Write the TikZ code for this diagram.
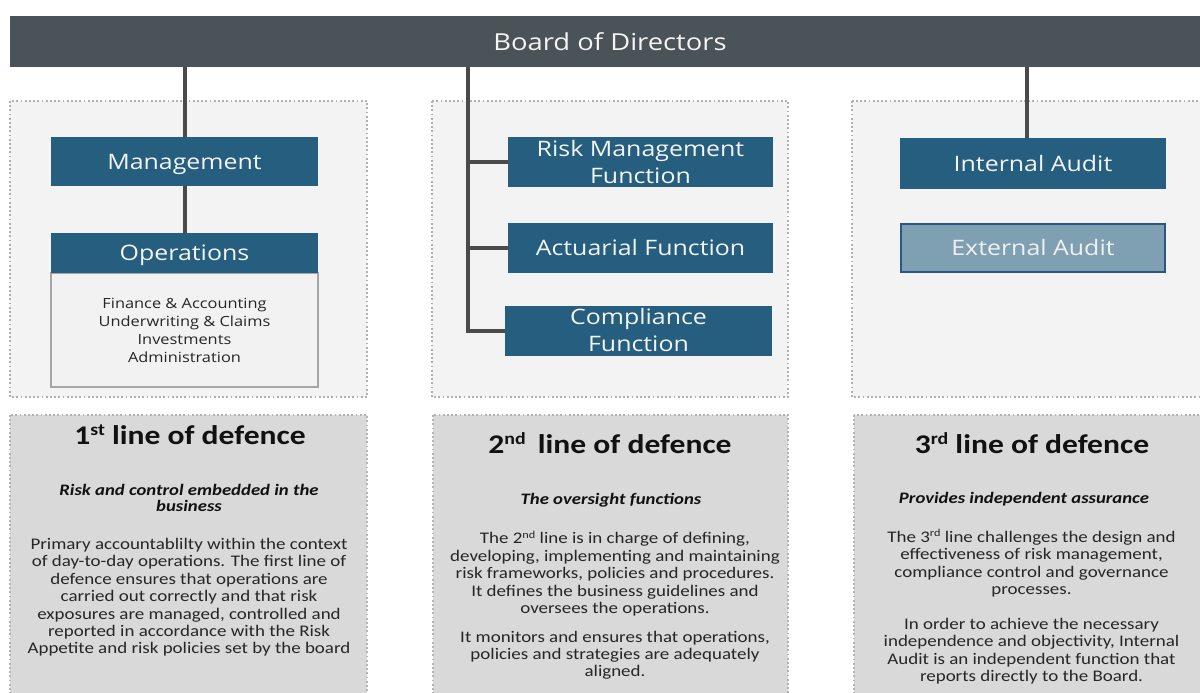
\documentclass[tikz,border=0pt]{standalone}
\usepackage{fontspec}
\setmainfont{Carlito}
\newfontfamily\boxfont[FakeStretch=1.17]{Open Sans}
\newfontfamily\bodyfont[FakeStretch=1.17]{Carlito}
\definecolor{boardgray}{HTML}{4A5357}
\definecolor{boxblue}{HTML}{255E7E}
\definecolor{extfill}{HTML}{7FA0B2}
\definecolor{extborder}{HTML}{2D5684}
\definecolor{panellight}{HTML}{F3F3F3}
\definecolor{panelgray}{HTML}{D9D9D9}
\definecolor{dotgray}{HTML}{B0B0B0}
\definecolor{dotgraytwo}{HTML}{B4B4B4}
\definecolor{linkgray}{HTML}{4A4A4A}
\definecolor{opsfill}{HTML}{F2F2F2}
\definecolor{opsborder}{HTML}{A6A6A6}
\definecolor{inktext}{HTML}{262626}
\definecolor{titleblack}{HTML}{111111}
\definecolor{textwhite}{HTML}{F4F4F4}
\definecolor{textwhitetwo}{HTML}{F0F0F0}
\newcommand{\titlesup}[1]{\raisebox{8.5pt}{\fontsize{17}{17}\selectfont #1}}
\newcommand{\bodysup}[1]{\raisebox{5.5pt}{\fontsize{10.5}{10.5}\selectfont #1}}
\tikzset{
  boardbox/.style={fill=boardgray, text=textwhite, font=\boxfont\fontsize{23.4}{28}\selectfont,
    inner sep=0pt, minimum width=1200pt, minimum height=51pt},
  bluebox/.style={fill=boxblue, text=textwhite, font=\boxfont\fontsize{21.3}{27}\selectfont,
    align=center, inner sep=0pt, minimum width=266pt, minimum height=50pt},
  capcentre/.style={text height=15.2pt, text depth=0pt},
  extbox/.style={bluebox, fill=extfill, draw=extborder, line width=2pt, text=textwhitetwo},
  opsbox/.style={fill=opsfill, draw=opsborder, line width=2pt, align=center,
    font=\boxfont\fontsize{14}{18}\selectfont, text=inktext, inner sep=0pt},
  toppanel/.style={fill=panellight, draw=dotgray, line width=1.8pt, dash pattern=on 1.8pt off 2.4pt},
  botpanel/.style={fill=panelgray, draw=dotgraytwo, line width=1.8pt, dash pattern=on 1.8pt off 2.4pt},
  link/.style={draw=linkgray, line width=4pt},
  titletext/.style={font=\bodyfont\bfseries\fontsize{27}{32}\selectfont, text=titleblack, inner sep=0pt, anchor=base},
  subtext/.style={font=\bodyfont\bfseries\itshape\fontsize{16}{16.5}\selectfont, align=center,
    inner sep=0pt, text=titleblack, anchor=base},
  paratext/.style={font=\bodyfont\fontsize{16.2}{17.4}\selectfont, align=center,
    inner sep=0pt, text=inktext, anchor=base},
}
\begin{document}
\begin{tikzpicture}[x=1pt,y=-1pt]
\useasboundingbox (0,0) rectangle (1200,693);
\clip (0,0) rectangle (1200,693);
% panels
\draw[toppanel] (10,101) rectangle (367,397);
\draw[toppanel] (432,101) rectangle (788,397);
\draw[toppanel] (852,101) rectangle (1212,397);
\draw[botpanel] (10,415) rectangle (367,700);
\draw[botpanel] (433,415) rectangle (788,700);
\draw[botpanel] (854,415) rectangle (1212,700);
% board
\node[boardbox] (board) at (610,41.5) {Board of Directors};
% first line column
\node[bluebox, capcentre, minimum width=267pt, minimum height=49pt] (mgmt) at (184.5,161.5) {Management};
\node[opsbox, minimum width=267pt, minimum height=114pt] (opsd) at (184.5,330)
  {Finance \& Accounting\\Underwriting \& Claims\\Investments\\Administration};
\node[bluebox, capcentre, minimum width=267pt, minimum height=40pt] (ops) at (184.5,253) {Operations};
% second line column
\node[bluebox, minimum width=265pt] (rmf) at (640.5,162) {Risk Management\\Function};
\node[bluebox, minimum width=265pt] (act) at (640.5,248) {Actuarial Function};
\node[bluebox, minimum width=267pt] (comp) at (638.5,330.5) {Compliance\\Function};
% third line column
\node[bluebox, minimum height=51pt] (ia) at (1033,163.5) {Internal Audit};
\node[extbox, minimum width=264pt, minimum height=48pt] (ea) at (1033,248) {External Audit};
% connectors
\draw[link] (board.south -| mgmt.north) -- (mgmt.north);
\draw[link] (mgmt.south) -- (ops.north);
\coordinate (spine) at (468,67);
\draw[link] (spine) -- (spine |- comp.west) -- (comp.west);
\draw[link] (spine |- rmf.west) -- (rmf.west);
\draw[link] (spine |- act.west) -- (act.west);
\coordinate (iaspine) at (1027,67);
\draw[link] (iaspine) -- (iaspine |- ia.north);
% bottom texts, panel 1 (anchor base = last line's baseline)
\node[titletext] (t1) at (190,444) {1\titlesup{st} line of defence};
\node[subtext] (s1) at (189,511.5) {Risk and control embedded in the\\business};
\node[paratext] (p1) at (189,653.9) {Primary accountablilty within the context\\of day-to-day operations. The first line of\\defence ensures that operations are\\carried out correctly and that risk\\exposures are managed, controlled and\\reported in accordance with the Risk\\Appetite and risk policies set by the board};
% panel 2
\node[titletext] (t2) at (610,453) {2\titlesup{nd}\hspace{0.45em}line of defence};
\node[subtext] (s2) at (611,504) {The oversight functions};
\node[paratext] (p2) at (615,613.5) {The 2\bodysup{nd} line is in charge of defining,\\developing, implementing and maintaining\\risk frameworks, policies and procedures.\\It defines the business guidelines and\\oversees the operations.};
\node[paratext] (q2) at (615,676.8) {It monitors and ensures that operations,\\policies and strategies are adequately\\aligned.};
% panel 3
\node[titletext] (t3) at (1032,453) {3\titlesup{rd} line of defence};
\node[subtext] (s3) at (1024,503) {Provides independent assurance};
\node[paratext] (p3) at (1031.5,594.5) {The 3\bodysup{rd} line challenges the design and\\effectiveness of risk management,\\compliance control and governance\\processes.};
\node[paratext] (q3) at (1031.5,681.5) {In order to achieve the necessary\\independence and objectivity, Internal\\Audit is an independent function that\\reports directly to the Board.};
\end{tikzpicture}
\end{document}
